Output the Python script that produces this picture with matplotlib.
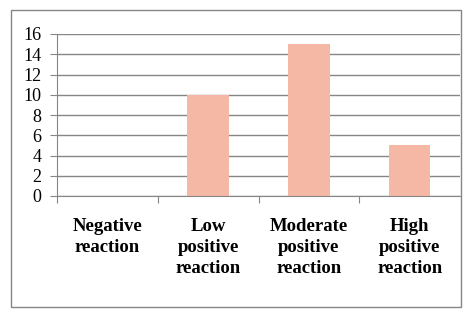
import matplotlib.pyplot as plt
from matplotlib.patches import Rectangle

categories = ['Negative\nreaction', 'Low\npositive\nreaction',
              'Moderate\npositive\nreaction', 'High\npositive\nreaction']
values = [0, 10, 15, 5]
yticks = [0, 2, 4, 6, 8, 10, 12, 14, 16]

plt.rcParams['font.family'] = ['Liberation Serif', 'DejaVu Serif']

fig = plt.figure(figsize=(4.7, 3.15), dpi=100)
ax = fig.add_axes([57/470, 1 - 196/315, 403/470, 162/315])

grey = '#868686'
x = list(range(len(categories)))
ax.bar(x, values, width=0.41, color='#F4B8A4', zorder=2)

ax.set_xlim(-0.5, len(categories) - 0.5)
ax.set_ylim(0, 16)
ax.set_yticks(yticks)
ax.set_yticklabels([str(t) for t in yticks], fontsize=13)
ax.yaxis.grid(True, color=grey, linewidth=1)
ax.set_axisbelow(True)

ax.set_xticks([i - 0.5 for i in range(len(categories))])
ax.set_xticklabels([])
for i, c in enumerate(categories):
    ax.text(i, -2.2, c, ha='center', va='top', fontsize=13.5,
            fontweight='bold', linespacing=1.3)

for s in ['top', 'right']:
    ax.spines[s].set_visible(False)
for s in ['left', 'bottom']:
    ax.spines[s].set_color(grey)
ax.tick_params(axis='both', color=grey, length=5, direction='out')
ax.tick_params(axis='y', pad=6)

fig.patches.append(Rectangle((11/470, 1 - 307/315), 450/470, 297/315,
                             transform=fig.transFigure, fill=False,
                             edgecolor=grey, linewidth=1))

fig.savefig('out.png', dpi=100)
